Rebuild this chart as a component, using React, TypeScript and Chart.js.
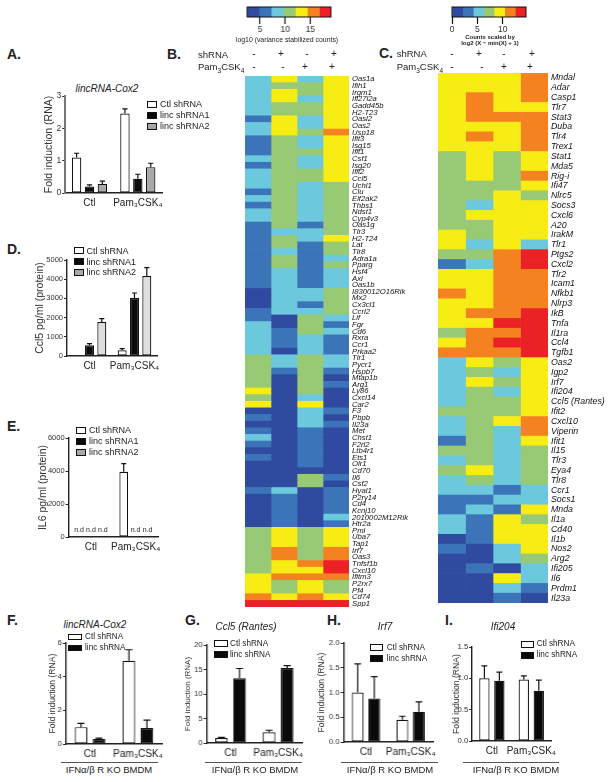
import React, { useEffect, useRef } from 'react';
import Chart from 'chart.js/auto';

const FONT = '"Liberation Sans", Arial, sans-serif';
Chart.defaults.font.family = FONT;
Chart.defaults.color = '#222';

// heatmap colour levels, dark blue to red
const palette = ['#2f4a9e', '#3c74b9', '#6cc8dc', '#98c974', '#f7ec14', '#f58220', '#ec2126'];
const bBarEdges = [2.4, 4.8, 7.2, 9.6, 12, 14.4, 16.8, 19.1];
const bBarTicks = [5, 10, 15];
const cBarEdges = [0, 2.1, 4.2, 6.2, 8.3, 10.4, 12.5, 14.6];
const cBarTicks = [0, 5, 10];
const shRnaSigns = ['-', '+', '-', '+'];
const pamSigns = ['-', '-', '+', '+'];

const bGenes = ['Oas1a', 'Ifih1', 'Irgm1', 'Ifi27l2a', 'Gadd45b', 'H2-T23', 'Oasl2', 'Oas2', 'Usp18', 'Ifit3',
  'Isg15', 'Ifit1', 'Csf1', 'Isg20', 'Ifit2', 'Ccl5', 'Uchl1', 'Clu', 'Eif2ak2', 'Thbs1',
  'Ndst1', 'Cyp4v3', 'Oas1g', 'Tlr3', 'H2-T24', 'Lat', 'Tlr8', 'Adra1a', 'Pparg', 'Hsf4',
  'Axl', 'Oas1b', 'I830012O16Rik', 'Mx2', 'Cx3cl1', 'Ccrl2', 'Lif', 'Fgr', 'Cd6', 'Rxra',
  'Ccr1', 'Prkaa2', 'Tlr1', 'Pycr1', 'Hspb7', 'Mtap1b', 'Arg1', 'Ly86', 'Cxcl14', 'Car2',
  'F3', 'Pbpb', 'Il23a', 'Met', 'Chst1', 'F2rl2', 'Ltb4r1', 'Ets1', 'Olr1', 'Cd70',
  'Il6', 'Csf2', 'Hyal1', 'P2ry14', 'Cd4', 'Kcnj10', '2010002M12Rik', 'Htr2a', 'Pml', 'Uba7',
  'Tap1', 'Irf7', 'Oas3', 'Tnfsf1b', 'Cxcl10', 'Ifitm3', 'P2rx7', 'Pf4', 'Cd74', 'Spp1'];

const bLevels = [
  [2, 4, 2, 4], [2, 3, 3, 4], [2, 4, 3, 4], [2, 4, 2, 4], [2, 3, 3, 4], [2, 3, 3, 4], [1, 4, 2, 4], [2, 4, 2, 4],
  [2, 4, 3, 5], [1, 3, 2, 4], [1, 3, 2, 4], [1, 3, 3, 4], [2, 3, 2, 4], [1, 3, 2, 4], [2, 3, 3, 4], [2, 3, 3, 4],
  [2, 3, 2, 3], [1, 3, 2, 3], [2, 3, 2, 3], [1, 3, 2, 3], [2, 3, 2, 3], [2, 3, 2, 3], [1, 3, 1, 3], [1, 2, 2, 3],
  [1, 3, 2, 4], [1, 3, 1, 3], [1, 2, 1, 3], [1, 3, 1, 2], [1, 3, 1, 3], [1, 2, 1, 2], [1, 2, 1, 2], [1, 2, 1, 2],
  [0, 2, 2, 3], [0, 2, 2, 3], [0, 2, 1, 3], [1, 2, 2, 3], [1, 0, 3, 2], [2, 0, 3, 1], [2, 1, 3, 2], [2, 1, 2, 1],
  [2, 1, 2, 1], [2, 0, 2, 1], [3, 2, 3, 2], [3, 2, 3, 2], [3, 1, 3, 1], [3, 0, 3, 0], [3, 0, 3, 1], [4, 0, 3, 0],
  [3, 0, 2, 0], [4, 0, 4, 0], [0, 0, 2, 1], [1, 0, 2, 0], [0, 0, 2, 1], [1, 0, 1, 0], [2, 0, 1, 0], [1, 0, 1, 0],
  [0, 0, 1, 0], [1, 0, 1, 0], [0, 0, 1, 0], [0, 0, 0, 0], [0, 0, 3, 1], [0, 0, 3, 0], [1, 2, 0, 1], [0, 1, 0, 1],
  [0, 1, 0, 1], [0, 1, 0, 1], [0, 1, 0, 2], [0, 1, 0, 1], [3, 4, 3, 4], [3, 4, 3, 4], [3, 4, 3, 4], [3, 5, 3, 5],
  [3, 5, 3, 5], [3, 4, 5, 6], [3, 4, 4, 6], [4, 5, 5, 5], [4, 3, 4, 3], [4, 3, 4, 3], [5, 4, 5, 4], [6, 6, 6, 6],
];

const cGenes = ['Mndal', 'Adar', 'Casp1', 'Tlr7', 'Stat3', 'Duba', 'Tlr4', 'Trex1', 'Stat1', 'Mda5',
  'Rig-i', 'Ifi47', 'Nlrc5', 'Socs3', 'Cxcl6', 'A20', 'IrakM', 'Tlr1', 'Ptgs2', 'Cxcl2',
  'Tlr2', 'Icam1', 'Nfkb1', 'Nlrp3', 'IkB', 'Tnfa', 'Il1ra', 'Ccl4', 'Tgfb1', 'Oas2',
  'Igp2', 'Irf7', 'Ifi204', 'Ccl5 (Rantes)', 'Ifit2', 'Cxcl10', 'Viperin', 'Ifit1', 'Il15', 'Tlr3',
  'Eya4', 'Tlr8', 'Ccr1', 'Socs1', 'Mnda', 'Il1a', 'Cd40', 'Il1b', 'Nos2', 'Arg2',
  'Ifi205', 'Il6', 'Prdm1', 'Il23a'];

const cLevels = [
  [4, 4, 4, 5], [4, 4, 4, 5], [4, 5, 4, 5], [4, 5, 4, 4], [4, 5, 5, 5], [4, 4, 4, 5], [4, 5, 4, 5], [4, 4, 4, 5],
  [3, 4, 3, 4], [3, 4, 3, 4], [3, 4, 3, 5], [3, 3, 3, 4], [3, 3, 4, 3], [3, 2, 4, 4], [3, 4, 4, 4], [3, 3, 4, 4],
  [4, 3, 4, 4], [4, 2, 4, 2], [3, 3, 5, 6], [1, 2, 5, 6], [4, 4, 5, 5], [4, 4, 5, 5], [5, 4, 5, 5], [4, 4, 5, 5],
  [4, 5, 5, 6], [4, 4, 6, 6], [3, 5, 5, 6], [4, 5, 6, 6], [5, 5, 5, 6], [2, 4, 3, 4], [2, 3, 2, 4], [2, 4, 3, 4],
  [2, 3, 2, 4], [2, 3, 3, 4], [3, 3, 3, 4], [2, 3, 4, 5], [2, 3, 2, 5], [1, 3, 2, 4], [3, 3, 2, 3], [2, 3, 2, 3],
  [3, 4, 2, 3], [2, 3, 2, 3], [2, 2, 1, 2], [1, 1, 2, 2], [1, 2, 1, 4], [2, 1, 4, 3], [2, 1, 4, 4], [0, 1, 4, 4],
  [1, 0, 2, 4], [0, 0, 2, 3], [0, 1, 0, 2], [0, 0, 4, 2], [0, 0, 2, 1], [0, 0, 1, 0],
];

const groups = ['Ctl', 'Pam₃CSK₄'];

const aCtl = [1.1, 2.46];
const aCtlTop = [1.23, 2.6];
const aLinc1 = [0.2, 0.44];
const aLinc1Top = [0.25, 0.58];
const aLinc2 = [0.28, 0.8];
const aLinc2Top = [0.37, 0.92];

const dCtl = [0, 295];
const dCtlTop = [null, 380];
const dLinc1 = [555, 3020];
const dLinc1Top = [640, 3280];
const dLinc2 = [1770, 4170];
const dLinc2Top = [1945, 4600];

const eCtl = [null, 3950];
const eCtlTop = [null, 4450];
const eLinc1 = [null, null];
const eLinc2 = [null, null];

const fCtl = [1.0, 4.95];
const fCtlTop = [1.22, 5.6];
const fLinc = [0.3, 0.95];
const fLincTop = [0.35, 1.42];

const gCtl = [1.0, 2.2];
const gCtlTop = [1.15, 2.6];
const gLinc = [13.2, 15.3];
const gLincTop = [15.2, 15.8];

const hCtl = [1.0, 0.45];
const hCtlTop = [1.58, 0.52];
const hLinc = [0.88, 0.61];
const hLincTop = [1.32, 0.81];

const iCtl = [1.0, 0.98];
const iCtlTop = [1.2, 1.04];
const iLinc = [0.96, 0.8];
const iLincTop = [1.1, 0.97];

const WHITE = '#ffffff';
const BLACK = '#0a0a0a';
const GREY = '#a8a8a8';
const LIGHT = '#dedede';

// up-only error bars, and "n.d" where a bar has no value
const errorBars = {
  id: 'errorBars',
  afterDatasetsDraw(chart: any) {
    const { ctx, scales } = chart;
    chart.data.datasets.forEach((ds: any, i: number) => {
      chart.getDatasetMeta(i).data.forEach((bar: any, j: number) => {
        if (ds.data[j] === null) {
          ctx.save();
          ctx.font = `7px ${FONT}`;
          ctx.fillStyle = '#222';
          ctx.textAlign = 'center';
          ctx.fillText('n.d', bar.x, scales.y.getPixelForValue(0) - 5);
          ctx.restore();
          return;
        }
        const top = ds.tops && ds.tops[j];
        if (top == null) return;
        const y0 = scales.y.getPixelForValue(ds.data[j]);
        const y1 = scales.y.getPixelForValue(top);
        const cap = bar.width * 0.28;
        ctx.save();
        ctx.strokeStyle = '#111';
        ctx.lineWidth = 1.2;
        ctx.beginPath();
        ctx.moveTo(bar.x, y0);
        ctx.lineTo(bar.x, y1);
        ctx.moveTo(bar.x - cap, y1);
        ctx.lineTo(bar.x + cap, y1);
        ctx.stroke();
        ctx.restore();
      });
    });
  },
};

const frame = {
  id: 'frame',
  afterDatasetsDraw(chart: any) {
    const { ctx, chartArea: a } = chart;
    ctx.save();
    ctx.strokeStyle = '#111';
    ctx.lineWidth = 1;
    ctx.strokeRect(a.left, a.top, a.right - a.left, a.bottom - a.top);
    ctx.restore();
  },
};

function useChart(build: () => any) {
  const ref = useRef<HTMLCanvasElement>(null);
  useEffect(() => {
    const chart = new Chart(ref.current as HTMLCanvasElement, build());
    return () => chart.destroy();
  }, []);
  return ref;
}

function BarPanel({ axisX, right, top, base, titleX, series, max, step, decimals = 0, yTitle, catPct, barPct, axisColor = '#222', tickSize = 8.5, titleSize = 10.5 }: any) {
  const left = titleX - titleSize * 0.6;
  const padTop = 6;
  const padRight = 14;
  const xH = 18;
  const width = right - left + padRight;
  const height = padTop + base - top + xH;
  const ref = useChart(() => ({
    type: 'bar',
    data: {
      labels: groups,
      datasets: series.map((s: any) => ({
        label: s.label,
        data: s.data,
        tops: s.tops,
        backgroundColor: s.color,
        borderColor: '#111',
        borderWidth: 1.2,
        borderSkipped: false,
        categoryPercentage: catPct,
        barPercentage: barPct,
      })),
    },
    plugins: [errorBars],
    options: {
      animation: false,
      responsive: false,
      layout: { padding: { top: padTop, right: padRight, left: 0, bottom: 0 } },
      plugins: { legend: { display: false }, tooltip: { enabled: false } },
      scales: {
        x: {
          afterFit: (s: any) => { s.height = xH; s.paddingLeft = 0; s.paddingRight = 0; },
          grid: { display: false, drawTicks: false },
          border: { color: '#222', width: 1.4 },
          ticks: { font: { size: 10 }, padding: 4, maxRotation: 0, minRotation: 0, autoSkip: false, color: '#222' },
        },
        y: {
          min: 0,
          max,
          afterFit: (s: any) => { s.width = axisX - left; s.paddingTop = 0; s.paddingBottom = 0; },
          grid: { drawOnChartArea: false, tickLength: 3, tickColor: '#222', tickWidth: 1 },
          border: { color: axisColor, width: axisColor === '#222' ? 1.4 : 2 },
          ticks: { stepSize: step, font: { size: tickSize }, padding: 1, color: '#333', callback: (v: number) => v.toFixed(decimals) },
          title: { display: true, text: yTitle, font: { size: titleSize }, padding: 0, color: '#333' },
        },
      },
    },
  }));
  return <canvas ref={ref} width={width} height={height} style={{ position: 'absolute', left, top: top - padTop, width, height }} />;
}

function Heatmap({ left, top, width, height, genes, levels, labelW, fontSize }: any) {
  const ref = useChart(() => ({
    type: 'bar',
    data: {
      labels: genes,
      datasets: [0, 1, 2, 3].map((c) => ({
        data: genes.map(() => 1),
        backgroundColor: levels.map((row: number[]) => palette[row[c]]),
        borderWidth: 0,
        barPercentage: 1,
        categoryPercentage: 1,
      })),
    },
    options: {
      indexAxis: 'y',
      animation: false,
      responsive: false,
      layout: { padding: 0 },
      plugins: { legend: { display: false }, tooltip: { enabled: false } },
      scales: {
        x: { stacked: true, display: false, min: 0, max: 4 },
        y: {
          stacked: true,
          position: 'right',
          afterFit: (s: any) => { s.width = labelW; s.paddingTop = 0; s.paddingBottom = 0; },
          grid: { display: false, drawTicks: false },
          border: { display: false },
          ticks: { autoSkip: false, padding: 3, crossAlign: 'near', color: '#111', font: { size: fontSize, style: 'italic' } },
        },
      },
    },
  }));
  return <canvas ref={ref} width={width + labelW} height={height} style={{ position: 'absolute', left, top, width: width + labelW, height }} />;
}

function ColorBar({ left, top, width, height, edges, ticks }: any) {
  const pad = 10;
  const ref = useChart(() => ({
    type: 'bar',
    data: {
      labels: [''],
      datasets: palette.map((color, i) => ({
        data: [[edges[i], edges[i + 1]]],
        backgroundColor: color,
        borderWidth: 0,
        grouped: false,
        barPercentage: 1,
        categoryPercentage: 1,
      })),
    },
    plugins: [frame],
    options: {
      indexAxis: 'y',
      animation: false,
      responsive: false,
      layout: { padding: { left: pad, right: pad, top: 1, bottom: 0 } },
      plugins: { legend: { display: false }, tooltip: { enabled: false } },
      scales: {
        y: { display: false },
        x: {
          min: edges[0],
          max: edges[edges.length - 1],
          afterBuildTicks: (s: any) => { s.ticks = ticks.map((value: number) => ({ value })); },
          afterFit: (s: any) => { s.height = 20; s.paddingLeft = 0; s.paddingRight = 0; },
          grid: { drawOnChartArea: false, tickLength: 7, tickColor: '#111', tickWidth: 1.2 },
          border: { display: false },
          ticks: { font: { size: 8.5 }, padding: 1, color: '#333', maxRotation: 0 },
        },
      },
    },
  }));
  const w = width + pad * 2;
  const h = height + 21;
  return <canvas ref={ref} width={w} height={h} style={{ position: 'absolute', left: left - pad, top: top - 1, width: w, height: h }} />;
}

function T({ x, y, size = 9, center = false, bold = false, italic = false, children }: any) {
  return (
    <div style={{
      position: 'absolute', left: x, top: y, whiteSpace: 'nowrap', lineHeight: 1, color: '#222',
      fontFamily: FONT, fontSize: size, fontWeight: bold ? 'bold' : 'normal', fontStyle: italic ? 'italic' : 'normal',
      transform: center ? 'translate(-50%,-50%)' : 'translate(0,-50%)',
    }}>{children}</div>
  );
}

function Legend({ x, ys, textX, items, boxW = 10, boxH = 7, size = 9 }: any) {
  return (
    <>
      {items.map((it: any, i: number) => (
        <React.Fragment key={it.label}>
          <div style={{ position: 'absolute', left: x, top: ys[i] - boxH / 2, width: boxW, height: boxH, boxSizing: 'border-box', background: it.color, border: '1px solid #111' }} />
          <T x={textX} y={ys[i]} size={size}>{it.label}</T>
        </React.Fragment>
      ))}
    </>
  );
}

function KoFooter({ x1, x2, textX }: any) {
  return (
    <>
      <div style={{ position: 'absolute', left: x1, top: 761.5, width: x2 - x1, height: 1, background: '#555' }} />
      <T x={textX} y={770} size={9.5} center>IFNα/β R KO BMDM</T>
    </>
  );
}

function Signs({ xs, y, signs }: any) {
  return signs.map((s: string, i: number) => <T key={i} x={xs[i]} y={y} size={10} center>{s}</T>);
}

const pamLabel = <>Pam<sub style={{ fontSize: 6.5, lineHeight: 0 }}>3</sub>CSK<sub style={{ fontSize: 6.5, lineHeight: 0 }}>4</sub></>;

const three = (colors: string[], d: any[]) => ['Ctl shRNA', 'linc shRNA1', 'linc shRNA2'].map((label, i) => ({ label, color: colors[i], ...d[i] }));
const two = (d: any[]) => ['Ctl shRNA', 'linc shRNA'].map((label, i) => ({ label, color: [WHITE, BLACK][i], ...d[i] }));

export default function App() {
  const abc = [WHITE, BLACK, GREY];
  const small = { tickSize: 7.7, titleSize: 8.6 };
  const legendSmall = { size: 8.2, boxH: 6.5 };

  return (
    <div style={{ position: 'absolute', left: 0, top: 0, width: 612, height: 782, overflow: 'hidden', background: '#fff' }}>
      <T x={7} y={54} size={14} bold>A.</T>
      <T x={167} y={54} size={14} bold>B.</T>
      <T x={379} y={53} size={14} bold>C.</T>
      <T x={7} y={249} size={14} bold>D.</T>
      <T x={7} y={426} size={14} bold>E.</T>
      <T x={7} y={620} size={14} bold>F.</T>
      <T x={185} y={620} size={14} bold>G.</T>
      <T x={327} y={620} size={14} bold>H.</T>
      <T x={445} y={620} size={14} bold>I.</T>

      <T x={107} y={89} size={10} italic center>lincRNA-Cox2</T>
      <BarPanel axisX={65} right={162} top={96} base={193} titleX={49} max={3} step={1} yTitle="Fold induction (RNA)" catPct={0.8} barPct={0.73} axisColor="#777"
        series={three(abc, [{ data: aCtl, tops: aCtlTop }, { data: aLinc1, tops: aLinc1Top }, { data: aLinc2, tops: aLinc2Top }])} />
      <Legend x={147} ys={[104, 115, 126]} textX={160} items={three(abc, [{}, {}, {}])} />

      <BarPanel axisX={66.7} right={157} top={259.7} base={355.7} titleX={40} max={5000} step={1000} yTitle="Ccl5 pg/ml (protein)" catPct={0.82} barPct={0.73} tickSize={7.5}
        series={three([WHITE, BLACK, LIGHT], [{ data: dCtl, tops: dCtlTop }, { data: dLinc1, tops: dLinc1Top }, { data: dLinc2, tops: dLinc2Top }])} />
      <Legend x={74} ys={[250.7, 261.7, 272.3]} textX={86.5} items={three(abc, [{}, {}, {}])} />

      <BarPanel axisX={68.3} right={158} top={438} base={537} titleX={43} max={6000} step={2000} yTitle="IL6 pg/ml (protein)" catPct={0.8} barPct={0.73} tickSize={7.5}
        series={three(abc, [{ data: eCtl, tops: eCtlTop }, { data: eLinc1 }, { data: eLinc2 }])} />
      <Legend x={76} ys={[430, 441, 452]} textX={89} items={three(abc, [{}, {}, {}])} />

      <T x={95} y={625} size={10} italic center>lincRNA-Cox2</T>
      <BarPanel axisX={65.7} right={161.7} top={642.7} base={744.3} titleX={52} max={6} step={2} yTitle="Fold induction (RNA)" catPct={0.75} barPct={0.7} {...small}
        series={two([{ data: fCtl, tops: fCtlTop }, { data: fLinc, tops: fLincTop }])} />
      <Legend x={68} ys={[637, 648]} textX={85} boxW={14} {...legendSmall} items={two([{}, {}])} />
      <KoFooter x1={61} x2={158} textX={109} />

      <T x={246} y={627} size={10} italic center>Ccl5 (Rantes)</T>
      <BarPanel axisX={206.7} right={301.7} top={645} base={743.3} titleX={188} max={20} step={5} yTitle="Fold induction (RNA)" catPct={0.76} barPct={0.7} tickSize={7.7} titleSize={8}
        series={two([{ data: gCtl, tops: gCtlTop }, { data: gLinc, tops: gLincTop }])} />
      <Legend x={214} ys={[643.7, 654.7]} textX={230} boxW={14} {...legendSmall} items={two([{}, {}])} />
      <KoFooter x1={205} x2={302} textX={255} />

      <T x={385} y={627} size={10} italic center>Irf7</T>
      <BarPanel axisX={343.3} right={432.7} top={643.3} base={742.3} titleX={321} max={2} step={0.5} decimals={1} yTitle="Fold induction (RNA)" catPct={0.74} barPct={0.72} {...small}
        series={two([{ data: hCtl, tops: hCtlTop }, { data: hLinc, tops: hLincTop }])} />
      <Legend x={370} ys={[647.7, 658.7]} textX={386.7} boxW={13} {...legendSmall} items={two([{}, {}])} />
      <KoFooter x1={341} x2={437.7} textX={390} />

      <T x={503} y={627} size={10} italic center>Ifi204</T>
      <BarPanel axisX={471.7} right={550.7} top={646.7} base={741} titleX={455.7} max={1.5} step={0.5} decimals={1} yTitle="Fold induction (RNA)" catPct={0.76} barPct={0.69} {...small}
        series={two([{ data: iCtl, tops: iCtlTop }, { data: iLinc, tops: iLincTop }])} />
      <Legend x={520.7} ys={[644.3, 655.3]} textX={536.7} boxW={13} {...legendSmall} items={two([{}, {}])} />
      <KoFooter x1={462.7} x2={559.3} textX={516} />

      <ColorBar left={247} top={7.3} width={83.7} height={10} edges={bBarEdges} ticks={bBarTicks} />
      <T x={287} y={39.5} size={6.9} center>log10 (variance stabilized counts)</T>
      <T x={198} y={54.5} size={9.5}>shRNA</T>
      <T x={198} y={67} size={9.5}>{pamLabel}</T>
      <Signs xs={[254, 281, 307, 334]} y={53.5} signs={shRnaSigns} />
      <Signs xs={[254, 283, 305, 332]} y={66.7} signs={pamSigns} />
      <Heatmap left={245} top={76} width={104} height={531} genes={bGenes} levels={bLevels} labelW={62} fontSize={7.7} />

      <ColorBar left={451.7} top={7} width={74.3} height={10.3} edges={cBarEdges} ticks={cBarTicks} />
      <T x={490} y={36.7} size={6} bold center>Counts scaled by</T>
      <T x={490} y={43.3} size={6} bold center>log2 (X − min(X) + 1)</T>
      <T x={396.7} y={53.5} size={9.5}>shRNA</T>
      <T x={396.7} y={67} size={9.5}>{pamLabel}</T>
      <Signs xs={[452, 479, 504, 532]} y={53.5} signs={shRnaSigns} />
      <Signs xs={[452, 482, 504, 530]} y={66.7} signs={pamSigns} />
      <Heatmap left={438} top={73.3} width={110} height={530} genes={cGenes} levels={cLevels} labelW={64} fontSize={8.8} />
    </div>
  );
}
